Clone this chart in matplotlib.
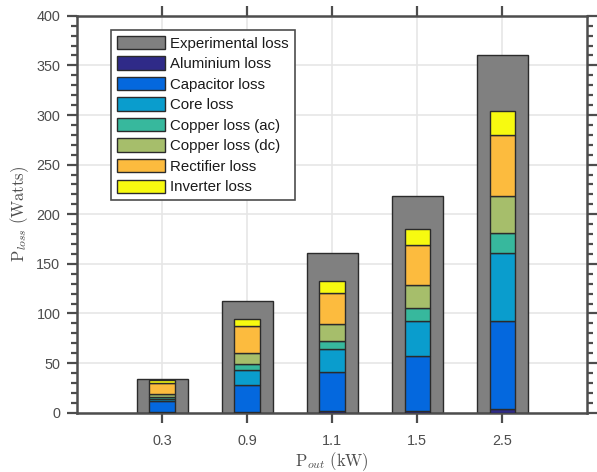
import matplotlib.pyplot as plt
import numpy as np

p_out = ["0.3", "0.9", "1.1", "1.5", "2.5"]
experimental = [34, 113, 161, 218, 360]
aluminium = [0.5, 1.0, 1.5, 2.2, 4.0]
capacitor = [11.0, 27.0, 39.6, 55.1, 88.0]
core = [2.5, 15.4, 23.2, 35.6, 69.0]
copper_ac = [1.7, 5.8, 8.4, 12.5, 19.6]
copper_dc = [3.4, 11.1, 16.9, 22.9, 37.4]
rectifier = [10.7, 26.6, 31.3, 41.1, 61.6]
inverter = [2.7, 7.7, 11.4, 16.1, 24.8]

components = [
    ("Aluminium loss", aluminium, "#2f2a88"),
    ("Capacitor loss", capacitor, "#0468de"),
    ("Core loss", core, "#0a9dcd"),
    ("Copper loss (ac)", copper_ac, "#37b89d"),
    ("Copper loss (dc)", copper_dc, "#a6be6b"),
    ("Rectifier loss", rectifier, "#fcbb3e"),
    ("Inverter loss", inverter, "#f7fa10"),
]

plt.rcParams["font.family"] = ["Liberation Sans", "DejaVu Sans"]
plt.rcParams["mathtext.fontset"] = "cm"
dark = "#4d4d4d"
edge = "#2b2b2b"

fig = plt.figure(figsize=(5.97, 4.72), dpi=100)
ax = fig.add_axes([0.129, 0.1256, 0.855, 0.841])

x = np.arange(1, len(p_out) + 1)
ax.bar(x, experimental, width=0.6, color="#808080", edgecolor=edge,
       linewidth=1.0, label="Experimental loss", zorder=2)
bottom = np.zeros(len(p_out))
for name, vals, col in components:
    ax.bar(x, vals, width=0.3, bottom=bottom, color=col, edgecolor=edge,
           linewidth=1.0, label=name, zorder=3)
    bottom += np.array(vals)

ax.set_xlim(0, 6)
ax.set_ylim(0, 400)
ax.set_xticks(x)
ax.set_xticklabels(p_out)
ax.set_yticks(np.arange(0, 401, 50))
ax.set_yticks(np.arange(0, 401, 10), minor=True)
ax.grid(True, which="major", color="#e6e6e6", linewidth=1.2, zorder=0)
ax.set_axisbelow(True)

ax.tick_params(which="both", direction="out", colors=dark, labelsize=10.4,
               top=True, right=True, width=1.6)
ax.tick_params(which="major", length=7)
ax.tick_params(which="minor", length=4)
ax.tick_params(axis="x", which="minor", bottom=False, top=False)
ax.tick_params(axis="x", which="major", pad=8)
ax.tick_params(axis="y", which="major", pad=5)
for s in ax.spines.values():
    s.set_color(dark)
    s.set_linewidth(1.8)

ax.set_xlabel(r"$\mathrm{P}_{out}\ \mathrm{(kW)}$", fontsize=12, color=dark,
              labelpad=2)
ax.set_ylabel(r"$\mathrm{P}_{loss}\ \mathrm{(Watts)}$", fontsize=12,
              color=dark, labelpad=4)

leg = ax.legend(loc="upper left", bbox_to_anchor=(0.066, 0.965),
                borderaxespad=0, fontsize=10.8,
                handlelength=3.2, handleheight=1.0, labelspacing=0.38,
                handletextpad=0.35, borderpad=0.4, fancybox=False,
                framealpha=1, edgecolor=dark)
leg.get_frame().set_linewidth(1.2)
for t in leg.get_texts():
    t.set_color("#1a1a1a")

fig.savefig("out.png", dpi=100)
plt.close(fig)
